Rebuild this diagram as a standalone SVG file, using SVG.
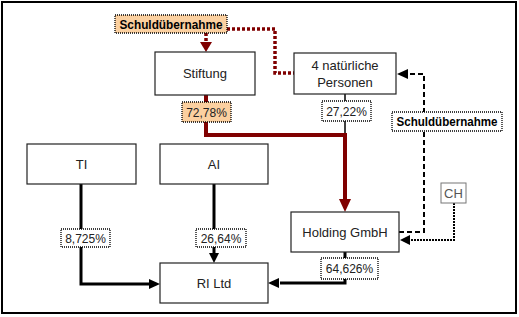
<svg xmlns="http://www.w3.org/2000/svg" width="519" height="317" viewBox="0 0 519 317">
<style>
.box{fill:#fff;stroke:#222;stroke-width:1.2}
.t{font-family:"Liberation Sans",Arial,sans-serif;font-size:13px;fill:#222;text-anchor:middle}
.lt{font-family:"Liberation Sans",Arial,sans-serif;font-size:12px;fill:#222;text-anchor:middle}
.bt{font-family:"Liberation Sans",Arial,sans-serif;font-size:12px;font-weight:bold;fill:#000;text-anchor:middle}
.lbl{fill:#fff;stroke:#000;stroke-width:1.3;stroke-dasharray:1 1}
.peach{fill:#FBD0A0}
.red{fill:none;stroke:#800000;stroke-width:4}
.reddot{fill:none;stroke:#800000;stroke-width:3.5;stroke-dasharray:3 2}
.blk{fill:none;stroke:#000;stroke-width:3}
.thin{fill:none;stroke:#000;stroke-width:1.5}
.dash{fill:none;stroke:#000;stroke-width:2;stroke-dasharray:5 3}
.dot{fill:none;stroke:#000;stroke-width:2;stroke-dasharray:2 1}
</style>
<rect x="2" y="2" width="514" height="311" fill="#fff" stroke="#000" stroke-width="2"/>
<g id="connectors">
<path class="red" d="M206,95 V135 H345 V200"/>
<polygon points="339,199 351,199 345,212" fill="#800000"/>
<path class="thin" d="M345,94 V133"/>
<path class="reddot" d="M206,33 V43"/>
<polygon points="200,42 212,42 206,52" fill="#800000"/>
<path class="reddot" d="M227,29 H275 V73 H294"/>
<path class="dash" d="M399,232 H424 V74 H408"/>
<polygon points="408,69 408,79 397,74" fill="#000"/>
<path class="dot" d="M454,203 V240 H410"/>
<polygon points="410,235 410,245 400,240" fill="#000"/>
<path class="blk" d="M81,184 V284 H150"/>
<polygon points="149,279 149,289 160,284" fill="#000"/>
<path class="blk" d="M214,184 V254"/>
<polygon points="209,253 219,253 214,263" fill="#000"/>
<path class="blk" d="M345,252 V283 H280"/>
<polygon points="279,278 279,288 268,283" fill="#000"/>
</g>
<g id="schuld1">
<rect class="lbl peach" x="115" y="15" width="112" height="18"/>
<text class="bt" x="171" y="28.5" textLength="103" lengthAdjust="spacingAndGlyphs">Schuldübernahme</text>
</g>
<g id="stiftung">
<rect class="box" x="155" y="52" width="100" height="43"/>
<text class="t" x="205" y="78">Stiftung</text>
</g>
<g id="personen">
<rect class="box" x="294" y="53" width="102" height="41"/>
<text class="t" x="345" y="70">4 natürliche</text>
<text class="t" x="345" y="87">Personen</text>
</g>
<g id="p7278">
<rect class="lbl peach" x="182" y="102" width="49" height="20"/>
<text class="lt" x="206.5" y="116.5">72,78%</text>
</g>
<g id="p2722">
<rect class="lbl" x="322" y="101" width="49" height="20"/>
<text class="lt" x="346.5" y="115.5">27,22%</text>
</g>
<g id="schuld2">
<rect class="lbl" x="392" y="112" width="110" height="19"/>
<text class="bt" x="447" y="126" textLength="101" lengthAdjust="spacingAndGlyphs">Schuldübernahme</text>
</g>
<g id="ti">
<rect class="box" x="27" y="144" width="109" height="40"/>
<text class="t" x="81.5" y="169">TI</text>
</g>
<g id="ai">
<rect class="box" x="160" y="144" width="108" height="40"/>
<text class="t" x="214" y="169">AI</text>
</g>
<g id="ch">
<rect x="441" y="183" width="25" height="20" fill="#fff" stroke="#777" stroke-width="1"/>
<text class="t" x="453.5" y="198" style="fill:#555">CH</text>
</g>
<g id="holding">
<rect class="box" x="291" y="212" width="108" height="40"/>
<text class="t" x="345" y="237">Holding GmbH</text>
</g>
<g id="p8725">
<rect class="lbl" x="61" y="229" width="49" height="18"/>
<text class="lt" x="85.5" y="242.5">8,725%</text>
</g>
<g id="p2664">
<rect class="lbl" x="196" y="229" width="50" height="18"/>
<text class="lt" x="221" y="242.5">26,64%</text>
</g>
<g id="p64626">
<rect class="lbl" x="321" y="258" width="57" height="21"/>
<text class="lt" x="349.5" y="273">64,626%</text>
</g>
<g id="rild">
<rect class="box" x="160" y="263" width="108" height="40"/>
<text class="t" x="214" y="288">RI Ltd</text>
</g>
</svg>
